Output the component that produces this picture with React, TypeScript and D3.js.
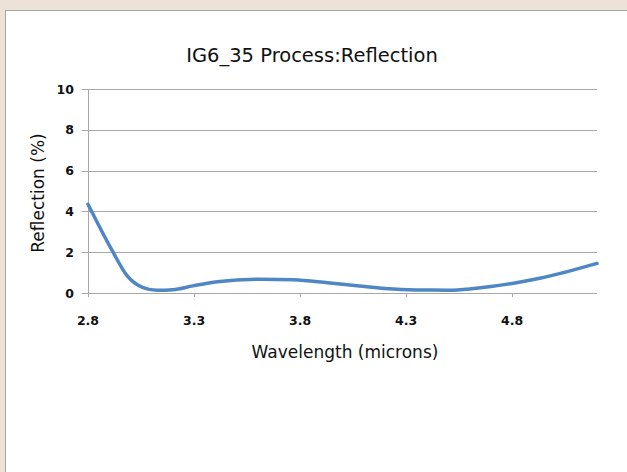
import React, { useEffect, useRef } from 'react';
import * as d3 from 'd3';

// values
const wavelength = [2.8, 2.913, 2.984, 3.06, 3.125, 3.2, 3.295, 3.41, 3.61, 3.77, 3.93, 4.08, 4.2, 4.35, 4.5, 4.6, 4.7, 4.8, 4.93, 5.06, 5.2];
const reflection = [4.35, 2.1, 0.85, 0.26, 0.13, 0.16, 0.35, 0.55, 0.68, 0.65, 0.5, 0.34, 0.22, 0.15, 0.14, 0.2, 0.32, 0.47, 0.72, 1.05, 1.45];
const xTicks = [2.8, 3.3, 3.8, 4.3, 4.8];
const yTicks = [0, 2, 4, 6, 8, 10];

const App = () => {
    const ref = useRef<SVGSVGElement | null>(null);

    useEffect(() => {
        const width = 627;
        const height = 472;
        const font = "'DejaVu Sans', Verdana, sans-serif";

        const svg = d3.select(ref.current);
        svg.selectAll('*').remove();

        // window frame
        svg.append('rect').attr('width', width).attr('height', height).attr('fill', '#ece2d5');
        svg.append('rect')
            .attr('x', 5.5).attr('y', 10.5)
            .attr('width', width).attr('height', height)
            .attr('fill', '#fff')
            .attr('stroke', '#a9a5a0');

        const x = d3.scaleLinear().domain([2.8, 5.2]).range([88, 597]);
        const y = d3.scaleLinear().domain([0, 10]).range([293, 89]);

        const grid = '#a8a8a8';

        svg.append('g')
            .selectAll('line')
            .data(yTicks)
            .join('line')
            .attr('x1', 82).attr('x2', x(5.2))
            .attr('y1', d => Math.round(y(d)) + 0.5)
            .attr('y2', d => Math.round(y(d)) + 0.5)
            .attr('stroke', grid);

        svg.append('line')
            .attr('x1', 88.5).attr('x2', 88.5)
            .attr('y1', y(10)).attr('y2', y(0) + 4)
            .attr('stroke', grid);

        svg.append('g')
            .selectAll('line')
            .data(xTicks)
            .join('line')
            .attr('x1', d => Math.round(x(d)) + 0.5)
            .attr('x2', d => Math.round(x(d)) + 0.5)
            .attr('y1', y(0)).attr('y2', y(0) + 4)
            .attr('stroke', grid);

        svg.append('g')
            .attr('font-family', font)
            .attr('font-size', 12.5)
            .attr('font-weight', 'bold')
            .attr('fill', '#111')
            .attr('text-anchor', 'end')
            .selectAll('text')
            .data(yTicks)
            .join('text')
            .attr('x', 74)
            .attr('y', d => y(d) + 4.5)
            .text(d => d);

        svg.append('g')
            .attr('font-family', font)
            .attr('font-size', 12.5)
            .attr('font-weight', 'bold')
            .attr('fill', '#111')
            .attr('text-anchor', 'middle')
            .selectAll('text')
            .data(xTicks)
            .join('text')
            .attr('x', d => x(d))
            .attr('y', 325)
            .text(d => d.toFixed(1));

        const line = d3.line<number>()
            .x((d, i) => x(wavelength[i]))
            .y(d => y(d))
            .curve(d3.curveMonotoneX);

        svg.append('path')
            .datum(reflection)
            .attr('d', line)
            .attr('fill', 'none')
            .attr('stroke', '#4f86c6')
            .attr('stroke-width', 3.5)
            .attr('stroke-linecap', 'round');

        svg.append('text')
            .attr('x', 312).attr('y', 62)
            .attr('text-anchor', 'middle')
            .attr('font-family', font)
            .attr('font-size', 19.5)
            .attr('fill', '#111')
            .text('IG6_35 Process:Reflection');

        svg.append('text')
            .attr('x', 345).attr('y', 358)
            .attr('text-anchor', 'middle')
            .attr('font-family', font)
            .attr('font-size', 17)
            .attr('fill', '#111')
            .text('Wavelength (microns)');

        svg.append('text')
            .attr('transform', 'translate(44,193) rotate(-90)')
            .attr('text-anchor', 'middle')
            .attr('font-family', font)
            .attr('font-size', 17)
            .attr('fill', '#111')
            .text('Reflection (%)');
    }, []);

    return (
        <svg ref={ref} width={627} height={472} style={{ position: 'absolute', left: 0, top: 0 }} />
    );
};

export default App;
